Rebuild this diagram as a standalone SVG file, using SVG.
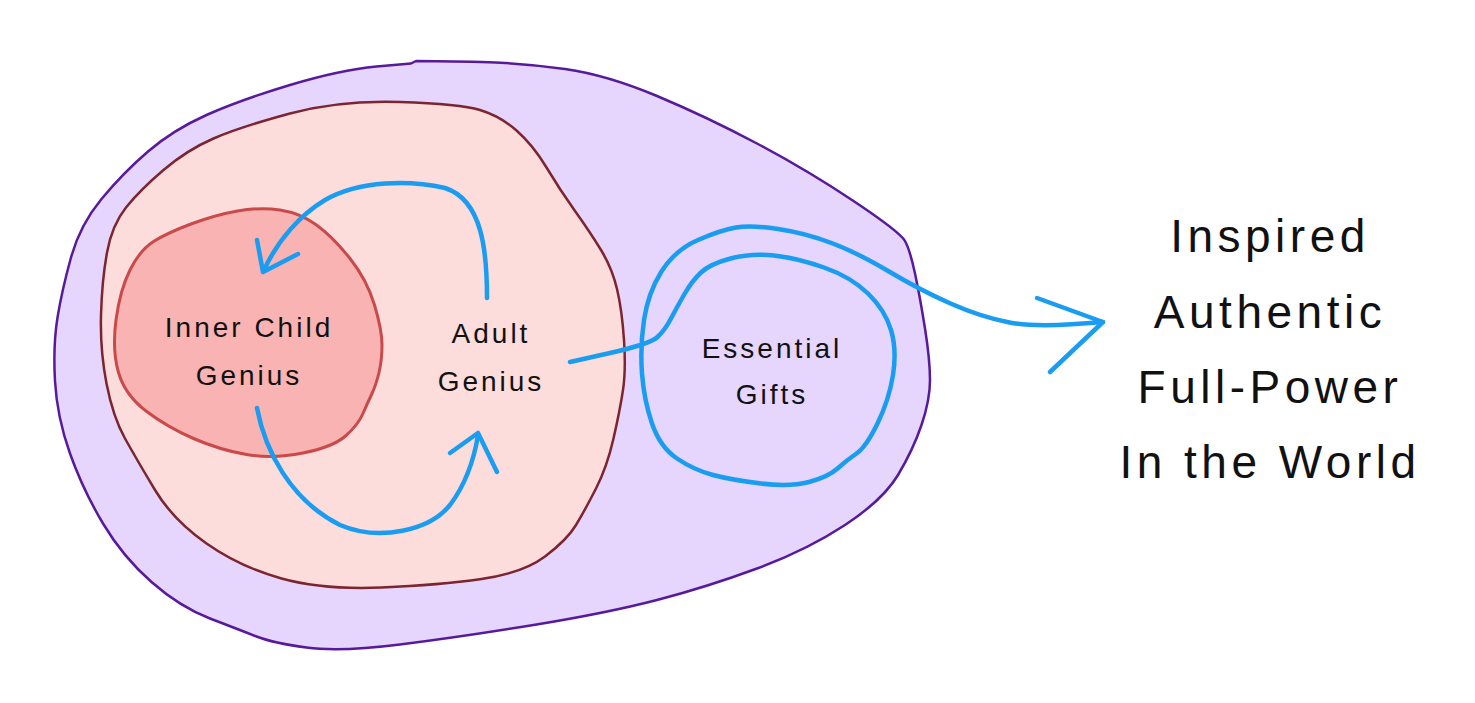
<svg xmlns="http://www.w3.org/2000/svg" width="1475" height="703" viewBox="0 0 1475 703">
<style>
.lbl{font-family:"Liberation Sans",Arial,sans-serif;font-size:28px;letter-spacing:3px;fill:#111;text-anchor:middle}
.big{font-family:"Liberation Sans",Arial,sans-serif;font-size:46px;letter-spacing:4.5px;fill:#111;text-anchor:middle}
.flow{fill:none;stroke:#1a9df0;stroke-width:4.5;stroke-linecap:round;stroke-linejoin:round}
</style>
<rect width="1475" height="703" fill="#ffffff"/>
<g id="outer-blob">
<path d="M376.5,66.5 Q400,64.5 411,63.5 L416,61 Q440,61 481.5,62 Q523,63 565,69 Q607,75 657,96 Q707,117 757,143.5 Q807,170 853.5,201 Q900,232 905,241 Q910,250 915,273.5 Q920,297 925,328.5 Q930,360 930,380 Q930,400 921.5,425 Q913,450 898,475 Q883,500 845,525 Q807,550 757,568.5 Q707,587 657,600 Q607,613 533.5,625 Q460,637 400,644.5 Q340,652 306.5,647.5 Q273,643 256.5,636.5 Q240,630 210,618.5 Q180,607 151.5,582 Q123,557 103,523.5 Q83,490 70,453.5 Q57,417 55,381 Q53,345 57.5,317.5 Q62,290 71,257.5 Q80,225 101.5,199 Q123,173 148,151.5 Q173,130 206.5,115 Q240,100 290,85 Q340,70 376.5,66.5 Z" fill="#e6d5fd" stroke="#561a9a" stroke-width="2.5" stroke-linejoin="round"/>
</g>
<g id="adult-genius">
<path d="M290,113.5 Q340,100 400,102 Q460,104 480,110 Q500,116 516.5,130.5 Q533,145 546.5,167.5 Q560,190 575,211 Q590,232 601,250 Q612,268 617,289 Q622,310 624,340 Q626,370 623,390 Q620,410 613.5,438.5 Q607,467 596,488.5 Q585,510 576,525 Q567,540 545,556.5 Q523,573 481.5,579 Q440,585 381.5,587.5 Q323,590 281.5,578.5 Q240,567 206.5,543.5 Q173,520 155,490 Q137,460 125,438.5 Q113,417 106.5,383.5 Q100,350 101,315 Q102,280 107,252.5 Q112,225 126,207.5 Q140,190 163.5,170 Q187,150 213.5,138.5 Q240,127 290,113.5 Z" fill="#fddcdc" stroke="#7b2530" stroke-width="2.5"/>
<text class="lbl" x="491" y="343">Adult</text>
<text class="lbl" x="491" y="391">Genius</text>
</g>
<g id="inner-child-genius">
<path d="M237.5,211 Q260,207 280,210 Q300,213 316.5,225 Q333,237 350,258.5 Q367,280 374.5,305 Q382,330 382,345 Q382,360 379,372.5 Q376,385 372,393.5 Q368,402 363,413.5 Q358,425 345.5,436 Q333,447 303,453 Q273,459 246.5,454.5 Q220,450 193.5,438.5 Q167,427 146,411 Q125,395 118.5,372.5 Q112,350 116,320 Q120,290 130,270 Q140,250 153.5,241.5 Q167,233 191,224 Q215,215 237.5,211 Z" fill="#fab3b3" stroke="#c94a4a" stroke-width="3"/>
<text class="lbl" x="249" y="337">Inner Child</text>
<text class="lbl" x="249" y="385">Genius</text>
</g>
<g id="essential-gifts">
<text class="lbl" x="772" y="358">Essential</text>
<text class="lbl" x="772" y="404">Gifts</text>
</g>
<g id="outcome">
<text class="big" x="1270" y="252">Inspired</text>
<text class="big" x="1270" y="328">Authentic</text>
<text class="big" x="1270" y="403">Full-Power</text>
<text class="big" x="1270" y="478">In the World</text>
</g>
<g id="connectors">
<path class="flow" d="M487,298 C487,250 482,200 445,188 C410,180 360,180 325,200 C300,215 278,240 264,270"/>
<path class="flow" d="M257,240 L263,272 L298,254"/>
<path class="flow" d="M257,408 C265,450 290,500 340,525 C380,542 430,530 450,505 C465,485 474,460 478,435"/>
<path class="flow" d="M450,453 L478,433 L497,472"/>
<path class="flow" d="M570,362 L610,353 Q650,344 657.5,337 Q665,330 671,318.5 Q677,307 684.5,294 Q692,281 701,272.5 Q710,264 730.5,258.5 Q751,253 774,255.5 Q797,258 824,267.5 Q851,277 868,293.5 Q885,310 891,330 Q897,350 893,375 Q889,400 877.5,423.5 Q866,447 856.5,453.5 Q847,460 837.5,468.5 Q828,477 809,482 Q790,487 761,483.5 Q732,480 713,475 Q694,470 677,458.5 Q660,447 652,423.5 Q644,400 642,373.5 Q640,347 644,320 Q648,293 661.5,271.5 Q675,250 698,240 Q721,230 736,227.5 Q751,225 778,229 Q805,233 831.5,243 Q858,253 889,271.5 Q920,290 950.5,303.5 Q981,317 1009.5,322.5 Q1038,328 1103,322"/>
<path class="flow" d="M1037,298 L1103,322 L1050,372"/>
</g>
</svg>
